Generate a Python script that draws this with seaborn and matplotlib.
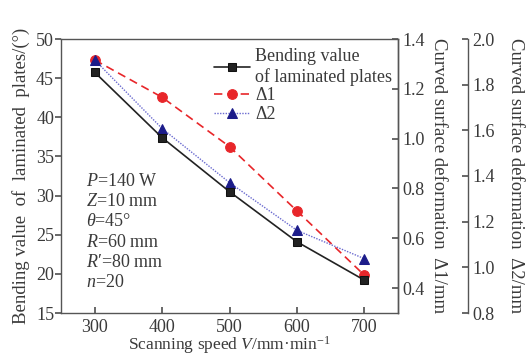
import matplotlib
matplotlib.use("Agg")
import matplotlib.pyplot as plt
import seaborn as sns
import pandas as pd

speed = [300, 400, 500, 600, 700]
bending = [45.75, 37.4, 30.5, 24.1, 19.2]
delta1 = [1.316, 1.166, 0.968, 0.71, 0.452]
delta2 = [1.908, 1.608, 1.371, 1.162, 1.038]

sns.set_theme(style="white")
plt.rcParams['font.family'] = ['Liberation Serif', 'DejaVu Serif']
plt.rcParams['mathtext.fontset'] = 'custom'
plt.rcParams['mathtext.rm'] = 'Liberation Serif'
plt.rcParams['mathtext.it'] = 'Liberation Serif:italic'

TXT = '#3a3a3a'
SP = '#555555'
FS = 13
LFS = 13.5

df = pd.DataFrame({'speed': speed, 'bending': bending, 'd1': delta1, 'd2': delta2})

fig = plt.figure(figsize=(5.28, 3.58), dpi=100)
ax = fig.add_axes([61/528, 1-313/358, (398-61)/528, (313-39)/358])
ax2 = ax.twinx()
ax3 = ax.twinx()

sns.lineplot(data=df, x='speed', y='bending', ax=ax, color='#222222', marker='s',
             markersize=6, linewidth=1.2, markeredgecolor='#111111', label='Bending value\nof laminated plates', legend=False)
sns.lineplot(data=df, x='speed', y='d1', ax=ax2, color='#e8262a', marker='o',
             markersize=7, linewidth=1.2, linestyle=(0, (5, 3)), markeredgecolor='#e8262a', label='Δ1', legend=False)
sns.lineplot(data=df, x='speed', y='d2', ax=ax3, color='#6a6ad0', marker='^',
             markersize=7, linewidth=1.0, linestyle=(0, (1, 1)), markerfacecolor='#1c1c8a',
             markeredgecolor='#1c1c8a', label='Δ2', legend=False)

ax.set_xlim(250, 750)
ax.set_ylim(15, 50)
ax2.set_ylim(0.3, 1.4)
ax3.set_ylim(0.8, 2.0)

ax.set_xticks([300, 400, 500, 600, 700])
ax.set_yticks([15, 20, 25, 30, 35, 40, 45, 50])
ax2.set_yticks([0.4, 0.6, 0.8, 1.0, 1.2, 1.4])
ax3.set_yticks([0.8, 1.0, 1.2, 1.4, 1.6, 1.8, 2.0])
ax2.set_yticklabels(['0.4', '0.6', '0.8', '1.0', '1.2', '1.4'])
ax3.set_yticklabels(['0.8', '1.0', '1.2', '1.4', '1.6', '1.8', '2.0'])

for a in (ax, ax2, ax3):
    for s in a.spines.values():
        s.set_color(SP)
        s.set_linewidth(1.0)

ax3.spines['right'].set_position(('axes', 407/337))
ax3.spines['right'].set_bounds(0.8, 2.0)
for s in ('top', 'left', 'bottom'):
    ax3.spines[s].set_visible(False)
    ax2.spines[s].set_visible(False)

ax.tick_params(axis='y', direction='out', length=4, color=SP, labelsize=FS, labelcolor=TXT, pad=1, left=True)
ax.tick_params(axis='x', direction='in', length=4, color=SP, labelsize=FS, labelcolor=TXT, pad=4, bottom=True)
ax2.tick_params(axis='y', direction='in', length=4, color=SP, labelsize=FS, labelcolor=TXT, pad=3, right=True)
ax3.tick_params(axis='y', direction='in', length=4, color=SP, labelsize=FS, labelcolor=TXT, pad=3, right=True)

ax.set_xlabel('Scanning speed $V$/mm·min$^{-1}$', fontsize=12.5, color=TXT, labelpad=-1)
ax.set_ylabel('Bending value  of  laminated  plates/(°)', fontsize=LFS, color=TXT, labelpad=4)
ax2.set_ylabel('Curved surface deformation  Δ1/mm', fontsize=LFS, color=TXT, rotation=270, labelpad=16)
ax3.set_ylabel('Curved surface deformation  Δ2/mm', fontsize=LFS, color=TXT, rotation=270, labelpad=21)

ax.text(0.075, 0.51, '$P$=140 W\n$Z$=10 mm\n$θ$=45°\n$R$=60 mm\n$R$′=80 mm\n$n$=20',
        transform=ax.transAxes, fontsize=FS, color=TXT, va='top', ha='left', linespacing=1.24)

handles = []
for a in (ax, ax2, ax3):
    h, l = a.get_legend_handles_labels()
    handles += list(zip(h, l))
leg = ax.legend([h for h, _ in handles], [l for _, l in handles], loc='upper right',
                frameon=False, fontsize=FS, handlelength=2.0, handletextpad=0.3,
                borderaxespad=0.1, labelspacing=0.1, bbox_to_anchor=(1.01, 1.0))
for t in leg.get_texts():
    t.set_color(TXT)
ax.set_zorder(ax3.get_zorder() + 1)
ax.patch.set_visible(False)

fig.savefig('out.png', dpi=100)
